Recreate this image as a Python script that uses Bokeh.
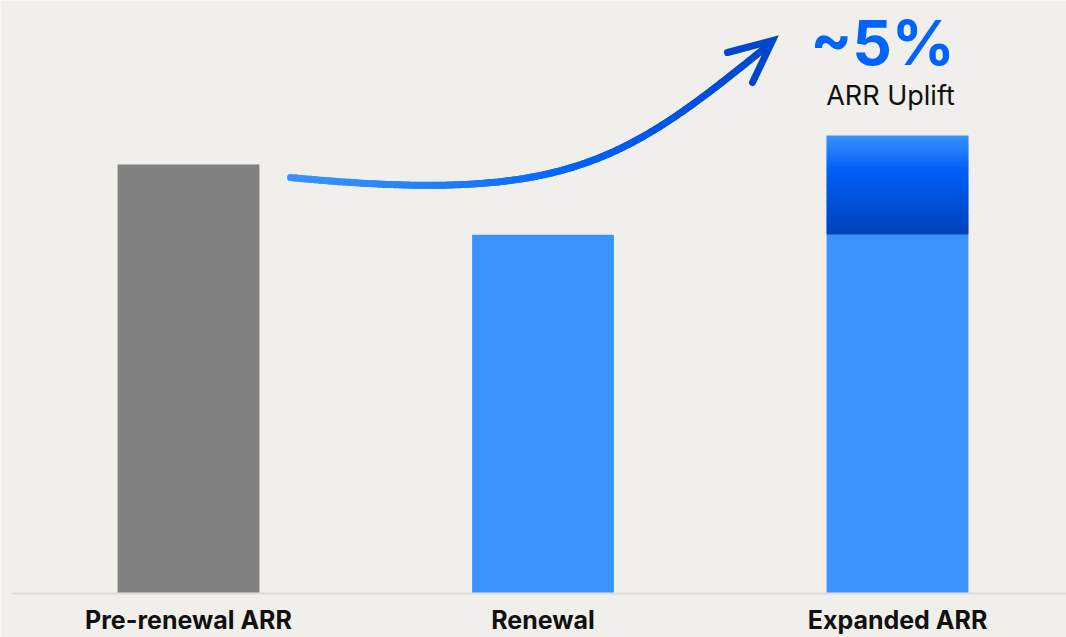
import numpy as np
from bokeh.plotting import figure
from bokeh.models import Range1d
from bokeh.core.properties import value
from bokeh.embed import file_html
from bokeh.resources import INLINE

# ---- data ----
categories = ["Pre-renewal ARR", "Renewal", "Expanded ARR"]
base_values = [100.0, 83.6, 83.6]
uplift_values = [0.0, 0.0, 23.2]
base_colors = ["#808080", "#3a93fc", "#3a93fc"]
headline = "~5%"
subhead = "ARR Uplift"

# ---- layout helpers (pixel <-> data) ----
W, H = 1066, 637
PX_X = 354.5          # pixels per category step
PX_Y = 4.28           # pixels per value unit
X0_PX = 188.0         # pixel of first category centre
Y0_PX = 592.0         # pixel of the zero line


def px2x(px):
    return (px - X0_PX) / PX_X


def px2y(py):
    return (Y0_PX - py) / PX_Y


def base_px(py, fs):
    # compensate the svg renderer's baseline offset
    return px2y(py - 0.41 * fs)


def hex2rgb(h):
    h = h.lstrip("#")
    return np.array([int(h[i:i + 2], 16) for i in (0, 2, 4)], dtype=float)


def grad(stops, t):
    for (t0, c0), (t1, c1) in zip(stops[:-1], stops[1:]):
        if t <= t1:
            f = 0 if t1 == t0 else (t - t0) / (t1 - t0)
            c = hex2rgb(c0) * (1 - f) + hex2rgb(c1) * f
            return "#%02x%02x%02x" % tuple(int(round(v)) for v in c)
    return stops[-1][1]


BG = "#f0efeb"
p = figure(width=W, height=H,
           x_range=Range1d(px2x(0), px2x(W)), y_range=Range1d(px2y(H), px2y(0)),
           output_backend="svg", toolbar_location=None,
           x_axis_type=None, y_axis_type=None, min_border=0,
           background_fill_color=BG, border_fill_color=BG, outline_line_color=None)
p.grid.visible = False

xs = list(range(len(categories)))
bar_w = 0.4

# zero line
p.segment(x0=[px2x(11)], y0=[0 - 1 / PX_Y], x1=[px2x(W)], y1=[0 - 1 / PX_Y],
          line_color="#dddcd8", line_width=2)

# base bars
p.vbar(x=xs, bottom=0, top=base_values, width=bar_w,
       fill_color=base_colors, line_color=None)

# uplift segment with vertical gradient (top -> bottom)
bar_stops = [(0.0, "#3a93fc"), (0.35, "#005ef9"), (1.0, "#0042bb")]
n = 50
ovl = 1.2 / PX_Y
for i, (b, u) in enumerate(zip(base_values, uplift_values)):
    if u <= 0:
        continue
    edges = np.linspace(b, b + u, n + 1)   # bottom -> top
    bots = edges[:-1]
    tops = edges[1:]
    cols = [grad(bar_stops, 1 - (k + 0.5) / n) for k in range(n)]
    tops_o = [t + (ovl if k < n - 1 else 0) for k, t in enumerate(tops)]
    p.quad(left=[i - bar_w / 2] * n, right=[i + bar_w / 2] * n,
           top=tops_o, bottom=list(bots),
           fill_color=cols, line_color=None)

# curved gradient arrow (annotation)
P = np.array([[px2x(290), px2y(177)],
              [px2x(560), px2y(203)],
              [px2x(620), px2y(165)],
              [px2x(765), px2y(47)]])
ts = np.linspace(0, 1, 160)
pts = ((1 - ts) ** 3)[:, None] * P[0] + (3 * (1 - ts) ** 2 * ts)[:, None] * P[1] \
    + (3 * (1 - ts) * ts ** 2)[:, None] * P[2] + (ts ** 3)[:, None] * P[3]
arrow_stops = [(0.0, "#3a93fc"), (0.5, "#0062ff"), (1.0, "#0047cc")]
seg_cols = [grad(arrow_stops, (ts[k] + ts[k + 1]) / 2) for k in range(len(ts) - 1)]
p.segment(x0=pts[:-1, 0], y0=pts[:-1, 1], x1=pts[1:, 0], y1=pts[1:, 1],
          line_color=seg_cols, line_width=7, line_cap="round")
# arrow head
tip = (px2x(772), px2y(40))
p.multi_line(xs=[[px2x(727), tip[0], px2x(752)]],
             ys=[[px2y(52), tip[1], px2y(82)]],
             line_color="#0047cc", line_width=7, line_cap="round", line_join="miter")

# headline text
FS_H, FS_S, FS_L = 62, 27, 25
p.text(x=[px2x(882)], y=[base_px(67, FS_H)], text=[headline],
       text_font=value("Inter"), text_font_style="bold", text_font_size=f"{FS_H}px",
       text_color="#0062ff", text_align="center", text_baseline="alphabetic")
p.text(x=[px2x(890)], y=[base_px(106, FS_S)], text=[subhead],
       text_font=value("Inter"), text_font_size=f"{FS_S}px",
       text_color="#111111", text_align="center", text_baseline="alphabetic")

# category labels
p.text(x=xs, y=[base_px(630, FS_L)] * len(xs), text=categories,
       text_font=value("Inter"), text_font_style="bold", text_font_size=f"{FS_L}px",
       text_color="#111111", text_align="center", text_baseline="alphabetic")

open("out.html", "w").write(file_html(p, INLINE))
